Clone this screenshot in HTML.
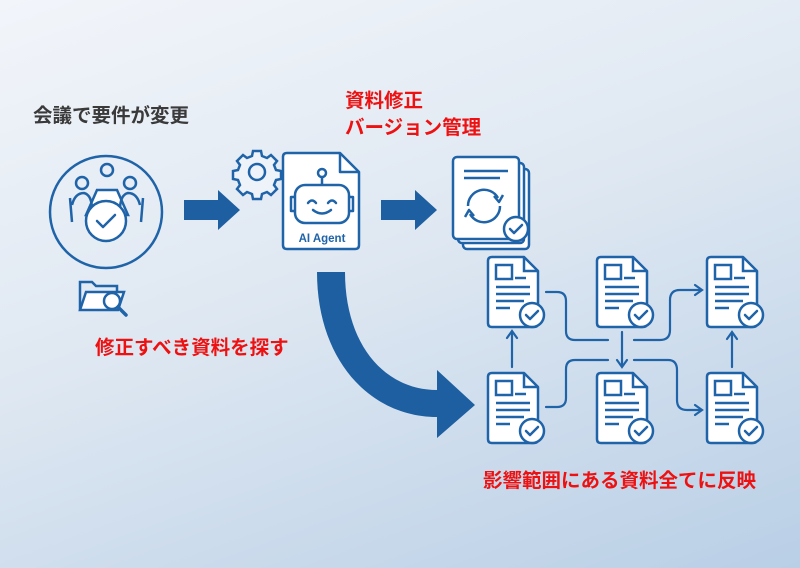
<!DOCTYPE html>
<html><head><meta charset="utf-8"><style>
html,body{margin:0;padding:0}
body{width:800px;height:568px;overflow:hidden;background:linear-gradient(160deg,#f2f5fa 0%,#dfe8f2 45%,#b9cfe6 100%);font-family:"Liberation Sans","Noto Sans CJK JP",sans-serif}
svg{position:absolute;left:0;top:0}
</style></head><body>
<svg width="800" height="568" viewBox="0 0 800 568" xmlns="http://www.w3.org/2000/svg">
<defs>
<g id="doc">
 <path d="M0,4 Q0,0 4,0 L36,0 L50,14 L50,66 Q50,70 46,70 L4,70 Q0,70 0,66 Z" fill="#fff" stroke="#1f63a8" stroke-width="2.5" stroke-linejoin="round"/>
 <path d="M36,0 L36,14 L50,14" fill="none" stroke="#1f63a8" stroke-width="2.5"/>
 <rect x="8" y="8" width="16" height="14" fill="none" stroke="#1f63a8" stroke-width="2.5"/>
 <path d="M27,21 H38 M8,30 H42 M8,37 H42 M8,44 H36 M8,51 H22" stroke="#1f63a8" stroke-width="2.5"/>
 <circle cx="44" cy="58" r="12" fill="#fff" stroke="#1f63a8" stroke-width="2.5"/>
 <path d="M38,58 L42,62 L50,54" fill="none" stroke="#1f63a8" stroke-width="2.5" stroke-linecap="round" stroke-linejoin="round"/>
</g>
</defs>
<text x="33" y="122" font-size="19.5" font-weight="bold" fill="#3a3a3a">会議で要件が変更</text>
<text x="345" y="107" font-size="19.5" font-weight="bold" fill="#ee1111">資料修正</text>
<text x="345" y="134" font-size="19.5" font-weight="bold" fill="#ee1111">バージョン管理</text>
<text x="95" y="354" font-size="19.5" font-weight="bold" fill="#ee1111">修正すべき資料を探す</text>
<text x="483" y="487" font-size="19.5" font-weight="bold" fill="#ee1111">影響範囲にある資料全てに反映</text>

<!-- meeting -->
<g stroke="#1f63a8" stroke-width="2.5" fill="none">
 <circle cx="106" cy="212" r="56"/>
 <circle cx="107" cy="170" r="6"/>
 <circle cx="82" cy="183" r="6"/>
 <circle cx="130" cy="183" r="6"/>
 <path d="M97,190 L117,190 L128,215 L86,215 Z" fill="#fff"/>
 <path d="M72,205 Q75,193 84,193 Q92,195 92,210 M140,205 Q137,193 128,193 Q120,195 120,210"/>
 <path d="M70,198 L72,222 M143,198 L141,222"/>
 <circle cx="106" cy="221" r="20" fill="#fff"/>
 <path d="M97,221 L103,227 L115,215" stroke-linecap="round" stroke-linejoin="round"/>
 <path d="M80,310 L80,282 L92,282 L96,286 L117,286 L117,292" />
 <path d="M80,310 L86,292 L124,292 L118,310 Z" fill="#fff"/>
 <circle cx="112" cy="301" r="8" fill="#fff"/>
 <path d="M118,307 L126,315" stroke-width="3.5" stroke-linecap="round"/>
</g>

<path d="M184,200 H218 V190 L240,210 L218,230 V220 H184 Z" fill="#1d5fa0"/>
<path d="M381,200 H415 V190 L437,210 L415,230 V220 H381 Z" fill="#1d5fa0"/>
<path d="M317,272 C317,360 370,417 437,417 L437,438 L475,405 L437,370 L437,390 C385,390 345,345 345,272 Z" fill="#1d5fa0"/>

<g fill="none" stroke="#1f63a8" stroke-width="2.5">
 <path d="M253,151 h8 l1,5 l5,2 l4,-3 l6,6 l-3,4 l2,5 l5,1 v8 l-5,1 l-2,5 l3,4 l-6,6 l-4,-3 l-5,2 l-1,5 h-8 l-1,-5 l-5,-2 l-4,3 l-6,-6 l3,-4 l-2,-5 l-5,-1 v-8 l5,-1 l2,-5 l-3,-4 l6,-6 l4,3 l5,-2 z" fill="#eef3f9"/>
 <circle cx="257" cy="172" r="8"/>
</g>
<g stroke="#1f63a8" stroke-width="2.5" fill="none" stroke-linejoin="round">
 <path d="M283,157 Q283,153 287,153 L340,153 L359,172 L359,245 Q359,249 355,249 L287,249 Q283,249 283,245 Z" fill="#fff"/>
 <path d="M340,153 V172 H359"/>
 <circle cx="322" cy="173" r="4"/>
 <path d="M322,177 V185"/>
 <rect x="295" y="185" width="54" height="38" rx="10"/>
 <path d="M295,197 h-4 v14 h4 M349,197 h4 v14 h-4"/>
 <path d="M308,203 q4,-5 8,0 M328,203 q4,-5 8,0 M313,210 q9,7 18,0" stroke-linecap="round"/>
</g>
<text x="322" y="242" font-size="11.5" font-weight="bold" fill="#1f63a8" text-anchor="middle">AI Agent</text>

<g stroke="#1f63a8" stroke-width="2.5" fill="none" stroke-linejoin="round">
 <rect x="463" y="169" width="66" height="80" rx="4" fill="#fff"/>
 <rect x="458" y="163" width="66" height="80" rx="4" fill="#fff"/>
 <rect x="453" y="157" width="66" height="82" rx="4" fill="#fff"/>
 <path d="M464,171 H508 M464,178 H500"/>
 <path d="M468,206 A16,16 0 0 1 498,198 M500,206 A16,16 0 0 1 470,214" />
 <path d="M494,196 L499,202 L503,195 M474,216 L469,210 L465,217"/>
 <circle cx="516" cy="229" r="12" fill="#fff"/>
 <path d="M510,229 L514,233 L522,225" stroke-linecap="round"/>
</g>

<g stroke="#1f63a8" stroke-width="2.2" fill="none" stroke-linecap="round">
 <path d="M546,292 H557 Q566,292 566,301 V331 Q566,340 575,340 H608"/>
 <path d="M634,340 H660 Q670,340 670,330 V300 Q670,290 680,290 H700"/>
 <path d="M695,285 L702,290 L695,295"/>
 <path d="M622,332 V366"/>
 <path d="M617,360 L622,367 L627,360"/>
 <path d="M546,407 H557 Q566,407 566,398 V369 Q566,360 575,360 H608"/>
 <path d="M634,360 H668 Q677,360 677,370 V400 Q677,410 687,410 H700"/>
 <path d="M695,405 L702,410 L695,415"/>
 <path d="M512,367 V332"/>
 <path d="M507,338 L512,331 L517,338"/>
 <path d="M732,367 V333"/>
 <path d="M727,339 L732,332 L737,339"/>
</g>
<use href="#doc" x="488" y="257"/>
<use href="#doc" x="597" y="257"/>
<use href="#doc" x="707" y="257"/>
<use href="#doc" x="488" y="373"/>
<use href="#doc" x="597" y="373"/>
<use href="#doc" x="707" y="373"/>
</svg>
</body></html>
